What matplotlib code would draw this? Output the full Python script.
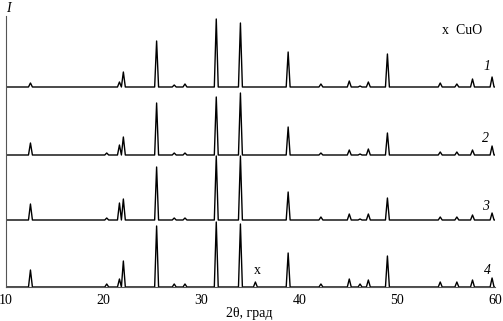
import matplotlib
matplotlib.use("Agg")
import matplotlib.pyplot as plt

plt.rcParams["font.family"] = ["Liberation Serif", "DejaVu Serif"]

# peak positions (2theta, deg) and heights (arb. units)
pos = [12.5, 20.3, 21.6, 22.0, 25.4, 27.2, 28.3, 31.5, 33.97, 35.5,
       38.85, 42.2, 45.1, 46.2, 47.05, 49.0, 54.4, 56.1, 57.7, 59.7]
h1 = [4, 0, 5, 15, 46, 2, 3, 68, 64, 0, 35, 3, 6, 1, 5, 33, 4, 3, 8, 10]
h2 = [12, 2, 10, 18, 52, 2, 2, 58, 62, 0, 28, 2, 5, 1, 6, 22, 3, 3, 5, 9]
h3 = [16, 2, 17, 21, 53, 2, 2, 64, 64, 0, 28, 3, 6, 1, 6, 22, 3, 3, 5, 7]
h4 = [17, 3, 8, 26, 61, 3, 3, 65, 63, 5, 34, 3, 8, 3, 7, 31, 5, 5, 7, 9]
curves = [h1, h2, h3, h4]
offsets = [200, 132, 67, 0]
curve_labels = ["1", "2", "3", "4"]
xticks = [10, 20, 30, 40, 50, 60]

fig = plt.figure(figsize=(5.03, 3.21), dpi=100)
ax = fig.add_axes([6 / 503, 1 - 287 / 321, 489 / 503, 271 / 321])

w = 0.2
for hs, off in zip(curves, offsets):
    xs, ys = [10], [off]
    for p, hh in zip(pos, hs):
        if hh <= 0:
            continue
        xs += [p - w, p, p + w]
        ys += [off, off + hh, off]
    xs.append(60)
    ys.append(off)
    ax.plot(xs, ys, color="black", lw=1.0)

ax.set_xlim(10, 60)
ax.set_ylim(0, 271)
ax.set_xticks(xticks)
ax.set_xticklabels([str(t) for t in xticks])
ax.set_yticks([])
ax.tick_params(axis="x", length=0, pad=5, labelsize=10)
for s in ["top", "right"]:
    ax.spines[s].set_visible(False)
for s in ["left", "bottom"]:
    ax.spines[s].set_color("#555555")
    ax.spines[s].set_linewidth(0.8)

fig.text(249 / 503, 1 - 313 / 321, "2θ, град", fontsize=10,
         va="center", ha="center")
fig.text(6 / 503, 1 - 8 / 321, "I", style="italic", fontsize=10, va="center")
fig.text(442 / 503, 1 - 30 / 321, "x  CuO", fontsize=10, va="center")

lab_pos = [(487, 67), (485, 138), (486, 207), (487, 271)]
for lab, (px, py) in zip(curve_labels, lab_pos):
    fig.text(px / 503, 1 - py / 321, lab, style="italic", fontsize=10,
             va="center", ha="center")
fig.text(257 / 503, 1 - 270 / 321, "x", fontsize=10, va="center", ha="center")

fig.savefig("out.png", dpi=100)
